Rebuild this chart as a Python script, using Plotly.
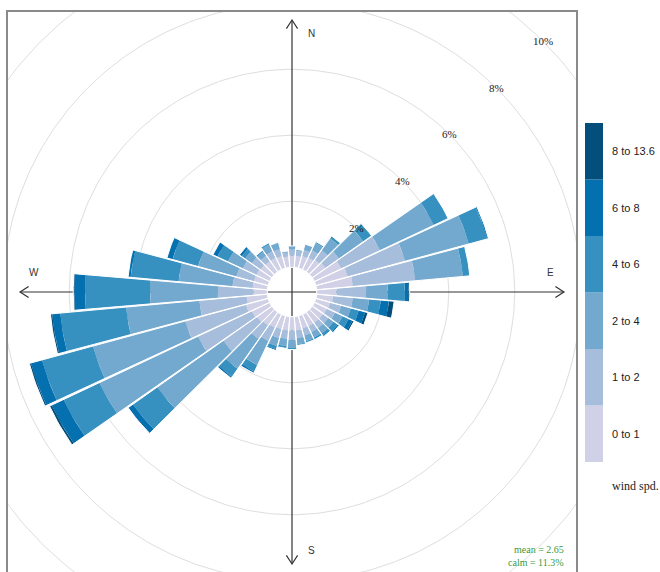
import numpy as np
import plotly.graph_objects as go

# Wind direction bins (degrees, centre of each 10-degree sector)
directions = list(range(10, 370, 10))

# Speed bins and their colours
speed_bins = ["0 to 1", "1 to 2", "2 to 4", "4 to 6", "6 to 8", "8 to 13.6"]
bin_colours = ["#d0d1e6", "#a6bddb", "#74a9cf", "#3690c0", "#0570b0", "#034e7b"]

# Frequency (% of all hours) for each speed bin, by direction 10..360
freq_0_1 = [0.35, 0.38, 0.40, 0.45, 0.50, 0.90, 1.00, 1.10, 0.60, 0.50,
            0.45, 0.42, 0.40, 0.40, 0.40, 0.40, 0.42, 0.42, 0.42, 0.42,
            0.45, 0.50, 0.55, 0.60, 0.70, 0.63, 0.42, 0.45, 0.45, 0.45,
            0.42, 0.40, 0.40, 0.38, 0.33, 0.35]
freq_1_2 = [0.15, 0.20, 0.25, 0.35, 0.50, 1.30, 1.80, 1.90, 0.90, 0.60,
            0.35, 0.28, 0.20, 0.20, 0.20, 0.22, 0.23, 0.28, 0.26, 0.28,
            0.45, 0.50, 1.25, 1.80, 1.90, 1.44, 1.08, 0.61, 0.55, 0.45,
            0.33, 0.20, 0.22, 0.22, 0.12, 0.20]
freq_2_4 = [0.05, 0.16, 0.25, 0.45, 0.90, 1.80, 2.00, 1.45, 0.65, 0.50,
            0.30, 0.25, 0.20, 0.20, 0.18, 0.18, 0.19, 0.25, 0.22, 0.25,
            0.80, 1.10, 2.45, 3.30, 2.90, 2.23, 2.05, 1.64, 1.20, 0.50,
            0.25, 0.15, 0.23, 0.20, 0.05, 0.10]
freq_4_6 = [0.00, 0.02, 0.04, 0.08, 0.30, 0.48, 0.58, 0.21, 0.52, 0.35,
            0.25, 0.20, 0.15, 0.10, 0.07, 0.05, 0.04, 0.05, 0.07, 0.10,
            0.22, 0.30, 0.90, 1.20, 1.60, 2.00, 1.97, 1.46, 0.80, 0.35,
            0.12, 0.05, 0.05, 0.02, 0.00, 0.00]
freq_6_8 = [0.00, 0.00, 0.00, 0.00, 0.00, 0.00, 0.04, 0.00, 0.11, 0.25,
            0.20, 0.13, 0.05, 0.01, 0.00, 0.00, 0.00, 0.00, 0.00, 0.04,
            0.05, 0.05, 0.18, 0.40, 0.35, 0.25, 0.33, 0.08, 0.18, 0.15,
            0.08, 0.00, 0.00, 0.00, 0.00, 0.00]
freq_8_plus = [0.00, 0.00, 0.00, 0.00, 0.00, 0.00, 0.00, 0.00, 0.04, 0.16,
               0.09, 0.05, 0.00, 0.00, 0.00, 0.00, 0.00, 0.00, 0.00, 0.00,
               0.00, 0.00, 0.00, 0.07, 0.05, 0.05, 0.03, 0.00, 0.00, 0.00,
               0.00, 0.00, 0.00, 0.00, 0.00, 0.00]

# Radial grid
ring_levels = [2, 4, 6, 8, 10, 12]
ring_labels = ["2%", "4%", "6%", "8%", "10%", "12%"]

mean_speed = 2.65
calm_pct = 11.3

# ---------------------------------------------------------------------------
freqs = np.array([freq_0_1, freq_1_2, freq_2_4, freq_4_6, freq_6_8, freq_8_plus])
cum = np.vstack([np.zeros(len(directions)), np.cumsum(freqs, axis=0)])
totals = cum[-1]
max_freq = totals.max()
off = 0.1 * max_freq          # size of the hole in the middle
axis_len = 1.11 * (max_freq + off)

half_width = 4.8              # degrees each side of the sector centre


def sector(wd, r1, r2, hw=half_width, n=9):
    a = np.radians(np.linspace(wd - hw, wd + hw, n))
    xs = np.concatenate([r2 * np.sin(a), r1 * np.sin(a[::-1])])
    ys = np.concatenate([r2 * np.cos(a), r1 * np.cos(a[::-1])])
    return list(np.append(xs, xs[0])), list(np.append(ys, ys[0]))


fig = go.Figure()

# grid circles
t = np.linspace(0, 2 * np.pi, 361)
gx, gy = [], []
for lev in ring_levels:
    gx += list((lev + off) * np.sin(t)) + [None]
    gy += list((lev + off) * np.cos(t)) + [None]
fig.add_trace(go.Scatter(x=gx, y=gy, mode="lines",
                         line=dict(color="#dedede", width=1),
                         hoverinfo="skip", showlegend=False))

# compass cross with open arrow heads
L = axis_len * 0.9
ah, aw = 0.26, 0.17
cx = [-L, L, None, 0, 0, None,
      0 - aw, 0, aw, None, 0 - aw, 0, aw, None,
      L - ah, L, L - ah, None, -L + ah, -L, -L + ah]
cy = [0, 0, None, -L, L, None,
      L - ah, L, L - ah, None, -L + ah, -L, -L + ah, None,
      aw, 0, -aw, None, aw, 0, -aw]
fig.add_trace(go.Scatter(x=cx, y=cy, mode="lines",
                         line=dict(color="#333333", width=1.2),
                         hoverinfo="skip", showlegend=False))

# stacked sectors, one trace per speed bin
for k, (name, col) in enumerate(zip(speed_bins, bin_colours)):
    px, py = [], []
    for j, wd in enumerate(directions):
        if freqs[k, j] <= 0:
            continue
        sx, sy = sector(wd, cum[k, j] + off, cum[k + 1, j] + off)
        px += sx + [None]
        py += sy + [None]
    fig.add_trace(go.Scatter(x=px, y=py, mode="lines", fill="toself",
                             fillcolor=col, line=dict(width=0, color=col),
                             name=name, hoverinfo="skip", showlegend=False))

# white outlines separating neighbouring sectors
ox, oy = [], []
for j, wd in enumerate(directions):
    sx, sy = sector(wd, off, totals[j] + off)
    ox += sx + [None]
    oy += sy + [None]
fig.add_trace(go.Scatter(x=ox, y=oy, mode="lines",
                         line=dict(color="white", width=1.0),
                         hoverinfo="skip", showlegend=False))

annotations = []
# ring labels along the 45 degree line
for lev, lab in zip(ring_levels, ring_labels):
    d = (lev + off) * np.sin(np.radians(45))
    annotations.append(dict(x=d, y=d, xref="x", yref="y", text=lab,
                            showarrow=False,
                            font=dict(family="Liberation Serif", size=11,
                                      color="#222222")))
# compass labels
lp, lo = axis_len * 0.855, 0.6
for lab, x, y in [("N", lo, lp), ("E", lp, lo), ("S", lo, -lp), ("W", -lp, lo)]:
    annotations.append(dict(x=x, y=y, xref="x", yref="y", text=lab,
                            showarrow=False,
                            font=dict(family="Liberation Sans", size=10,
                                      color="#333333")))

# key: stacked colour blocks
W, H = 660, 572
kx0, kx1, ky0, ky1 = 585, 603, 123, 462
bh = (ky1 - ky0) / len(speed_bins)
shapes = []
for i, (name, col) in enumerate(zip(speed_bins, bin_colours)):
    top = ky1 - (i + 1) * bh
    bot = ky1 - i * bh
    shapes.append(dict(type="rect", xref="paper", yref="paper",
                       x0=kx0 / W, x1=kx1 / W, y0=1 - bot / H, y1=1 - top / H,
                       fillcolor=col, line=dict(width=0)))
    annotations.append(dict(x=610 / W, y=1 - (top + bh / 2) / H,
                            xref="paper", yref="paper", text=name,
                            xanchor="left", yanchor="middle", showarrow=False,
                            font=dict(family="Liberation Sans", size=11,
                                      color="#222222")))
annotations.append(dict(x=610 / W, y=1 - 486 / H, xref="paper", yref="paper",
                        text="wind spd.", xanchor="left", yanchor="middle",
                        showarrow=False,
                        font=dict(family="Liberation Serif", size=12,
                                  color="#222222")))

# summary text
annotations.append(dict(x=566 / W, y=1 - 549 / H, xref="paper", yref="paper",
                        text=f"mean = {mean_speed}", xanchor="right",
                        yanchor="middle", showarrow=False,
                        font=dict(family="Liberation Serif", size=10,
                                  color="#3a9a3a")))
annotations.append(dict(x=566 / W, y=1 - 562 / H, xref="paper", yref="paper",
                        text=f"calm = {calm_pct}%", xanchor="right",
                        yanchor="middle", showarrow=False,
                        font=dict(family="Liberation Serif", size=10,
                                  color="#3a9a3a")))

# panel: 8..576 px wide, 12..572 px tall, equal scale on both axes
px_per_unit = 568 / (2 * 8.606)
xr = 284 / px_per_unit
yr = 280 / px_per_unit
axis_style = dict(showgrid=False, zeroline=False, showticklabels=False,
                  ticks="", showline=True, mirror=True, linecolor="#8a8a8a",
                  linewidth=1.5)
fig.update_layout(
    width=W, height=H,
    margin=dict(l=0, r=0, t=0, b=0),
    paper_bgcolor="white", plot_bgcolor="white",
    xaxis=dict(range=[-xr, xr], domain=[8 / W, 576 / W], **axis_style),
    yaxis=dict(range=[-yr, yr], domain=[0, 560 / H], **axis_style),
    shapes=shapes,
    annotations=annotations,
    showlegend=False,
)

fig.write_html("out.html")
